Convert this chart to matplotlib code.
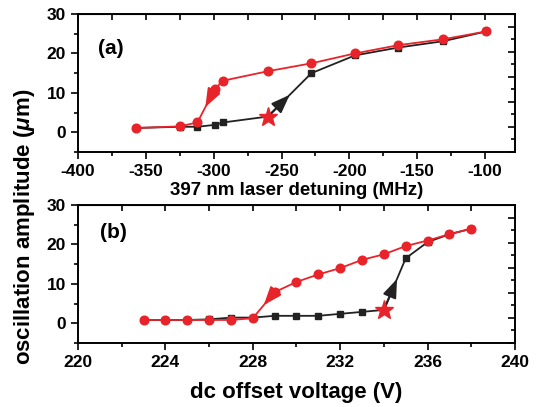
import numpy as np
import matplotlib
matplotlib.use("Agg")
import matplotlib.pyplot as plt
from matplotlib.ticker import MultipleLocator

plt.rcParams['font.family'] = ['Liberation Sans', 'DejaVu Sans']
plt.rcParams['font.weight'] = 'bold'
plt.rcParams['axes.unicode_minus'] = False
plt.rcParams['mathtext.fontset'] = 'custom'
plt.rcParams['mathtext.it'] = 'Liberation Sans:italic:bold'

RED = '#e8232a'
BLACK = '#222222'

# panel (a): oscillation amplitude vs 397 nm laser detuning
detuning = [-357, -325, -312, -299, -293, -260, -228, -196, -164, -131, -99]
amp_a_black = [1.1, 1.4, 1.4, 1.9, 2.5, 4.0, 15.0, 19.5, 21.5, 23.1, 25.6]
amp_a_red = [1.1, 1.5, 2.5, 11.1, 13.1, 15.5, 17.5, 20.0, 22.1, 23.6, 25.6]
star_a = 5

# panel (b): oscillation amplitude vs dc offset voltage
voltage = [223, 224, 225, 226, 227, 228, 229, 230, 231, 232, 233, 234, 235, 236, 237, 238]
amp_b_black = [0.85, 0.85, 0.85, 1.0, 1.45, 1.45, 1.9, 1.9, 1.9, 2.4, 2.9, 3.4, 16.5, 20.6, 22.6, 24.0]
amp_b_red = [0.85, 0.85, 0.85, 0.85, 0.85, 1.3, 7.9, 10.5, 12.4, 14.0, 16.1, 17.5, 19.6, 21.0, 22.6, 24.0]
star_b = 11


def mid_arrow(ax, x, y, i, j, frac, color):
    # arrow head part way along the segment from point i to point j
    x0, y0 = x[i], y[i]
    x1, y1 = x[j], y[j]
    tip = (x0 + frac * (x1 - x0), y0 + frac * (y1 - y0))
    ax.annotate('', xy=tip, xytext=(x0, y0),
                arrowprops=dict(arrowstyle='-|>,head_length=0.8,head_width=0.3',
                                color=color, lw=1.5,
                                mutation_scale=14, shrinkA=0, shrinkB=0),
                zorder=5)


def panel(ax, x, yb, yr, star, red_arrow, black_arrow, xlim, xmaj, xmin, xlabel, tag, tag_xy):
    keep = [k for k in range(len(x)) if k != star]
    ax.plot(x, yb, '-', color=BLACK, lw=1.3, zorder=2)
    ax.plot(np.array(x)[keep], np.array(yb)[keep], 's', color=BLACK, ms=4.6, zorder=2)
    ax.plot(x, yr, '-o', color=RED, lw=1.3, ms=6.2, zorder=3)
    ax.plot(x[star], yb[star], '*', color=RED, ms=14, zorder=6)
    mid_arrow(ax, x, yr, *red_arrow, RED)
    mid_arrow(ax, x, yb, *black_arrow, BLACK)

    ax.set_xlim(*xlim)
    ax.set_ylim(-5, 30)
    ax.xaxis.set_major_locator(MultipleLocator(xmaj))
    ax.xaxis.set_minor_locator(MultipleLocator(xmin))
    ax.yaxis.set_major_locator(MultipleLocator(10))
    ax.yaxis.set_minor_locator(MultipleLocator(5))
    ax.tick_params(which='major', direction='out', length=5, width=1.2, labelsize=12.5)
    ax.tick_params(which='minor', direction='out', length=3, width=1.2)
    for s in ax.spines.values():
        s.set_linewidth(1.2)
    ax.set_xlabel(xlabel, fontsize=13.5, fontweight='bold', labelpad=2)
    ax.text(tag_xy[0], tag_xy[1], tag, transform=ax.transAxes, fontsize=15,
            fontweight='bold', va='center')

    top = ax.secondary_xaxis('top')
    top.xaxis.set_major_locator(MultipleLocator(xmin))
    top.tick_params(direction='in', length=4, width=1.2, labeltop=False)
    right = ax.twinx()
    right.set_ylim(0, 5.5)
    right.yaxis.set_major_locator(MultipleLocator(1))
    right.yaxis.set_minor_locator(MultipleLocator(0.5))
    right.tick_params(which='major', direction='in', length=5, width=1.2, labelright=False)
    right.tick_params(which='minor', direction='in', length=3, width=1.2)
    for s in right.spines.values():
        s.set_linewidth(1.2)


fig = plt.figure(figsize=(5.4, 4.07), dpi=100)
ax_a = fig.add_axes([0.1444, 0.6265, 0.8093, 0.339])
ax_b = fig.add_axes([0.1444, 0.1572, 0.8093, 0.339])

panel(ax_a, detuning, amp_a_black, amp_a_red, star_a, (3, 2, 0.55), (5, 6, 0.5),
      (-400, -78), 50, 25, '397 nm laser detuning (MHz)', '(a)', (0.045, 0.75))
panel(ax_b, voltage, amp_b_black, amp_b_red, star_b, (6, 5, 0.5), (11, 12, 0.6),
      (220, 240), 4, 2, 'dc offset voltage (V)', '(b)', (0.05, 0.8))
ax_b.xaxis.label.set_size(16)
ax_b.xaxis.labelpad = 9

fig.text(0.045, 0.442, r'oscillation amplitude ($\mu$m)', rotation=90,
         fontsize=16, fontweight='bold', ha='center', va='center')

fig.savefig('out.png', dpi=100)
